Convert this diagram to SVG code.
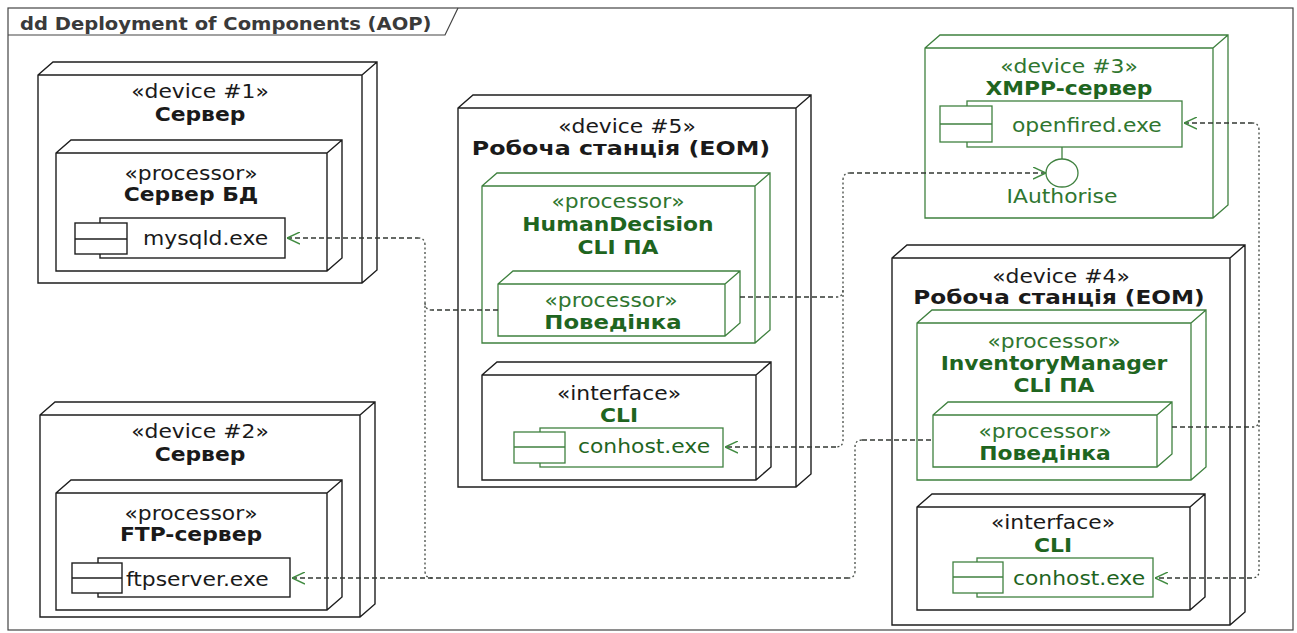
<svg xmlns="http://www.w3.org/2000/svg" width="1297" height="633" viewBox="0 0 1297 633">
  <style>
    .blk { fill: #ffffff; stroke: #1e1e1e; stroke-width: 1.4; }
    .grn { fill: #ffffff; stroke: #3f813f; stroke-width: 1.3; }
    .ln-k { fill: none; stroke: #1e1e1e; stroke-width: 1.4; }
    .ln-g { fill: none; stroke: #3f813f; stroke-width: 1.3; }
    .t { font-family: "DejaVu Sans", "Liberation Sans", sans-serif; font-size: 19px; text-anchor: middle; }
    .s { text-anchor: start; }
    .b { font-weight: bold; }
    .k { fill: #1a1a1a; }
    .g { fill: #2f762f; }
    .gb { fill: #1f651f; }
    .conn { fill: none; stroke: #333833; stroke-width: 1.3; stroke-dasharray: 5 3; }
    .dot { fill: none; stroke: #444a44; stroke-width: 1.3; stroke-dasharray: 2 2.5; }
  </style>
  <defs>
    <marker id="open-arrow" viewBox="0 0 13 13" refX="13" refY="6.5" markerWidth="13" markerHeight="13" markerUnits="userSpaceOnUse" orient="auto-start-reverse">
      <path d="M0,0.5 L13,6.5 L0,12.5" fill="none" stroke="#3f8a3f" stroke-width="1.4"/>
    </marker>
  </defs>

  <rect width="1297" height="633" fill="#ffffff"/>

  <!-- diagram frame -->
  <g id="frame">
    <rect x="8" y="8" width="1285" height="622" fill="none" stroke="#444444" stroke-width="1.2"/>
    <path d="M8,35 H445 L458,8" fill="none" stroke="#444444" stroke-width="1.2"/>
    <text class="t s b" style="font-size:17px; fill:#3a3a3a" transform="translate(20 30) scale(1.15 1)">dd Deployment of Components (AOP)</text>
  </g>

  <!-- device #1 -->
  <g id="device1">
    <path class="blk" d="M38,75 L53,62 L377,62 L377,270 L362,283 L38,283 Z M38,75 H362 V283 M362,75 L377,62"/>
    <text class="t k" transform="translate(200 98) scale(1.15 1)">«device #1»</text>
    <text class="t k b" transform="translate(200 121) scale(1.15 1)">Сервер</text>
  </g>
  <g id="db-server">
    <path class="blk" d="M56,153 L71,140 L342,140 L342,258 L327,271 L56,271 Z M56,153 H327 V271 M327,153 L342,140"/>
    <text class="t k" transform="translate(191 180) scale(1.15 1)">«processor»</text>
    <text class="t k b" transform="translate(191 201) scale(1.15 1)">Сервер БД</text>
  </g>
  <g id="mysqld">
    <rect class="blk" x="100" y="218" width="185" height="40"/>
    <rect class="blk" x="75" y="223" width="52" height="31"/>
    <line class="ln-k" x1="75" y1="239" x2="127" y2="239"/>
    <text class="t s k" transform="translate(143 245) scale(1.15 1)">mysqld.exe</text>
  </g>

  <!-- device #2 -->
  <g id="device2">
    <path class="blk" d="M40,415 L55,402 L375,402 L375,604 L360,617 L40,617 Z M40,415 H360 V617 M360,415 L375,402"/>
    <text class="t k" transform="translate(200 438) scale(1.15 1)">«device #2»</text>
    <text class="t k b" transform="translate(200 461) scale(1.15 1)">Сервер</text>
  </g>
  <g id="ftp-server">
    <path class="blk" d="M56,493 L71,480 L342,480 L342,597 L327,610 L56,610 Z M56,493 H327 V610 M327,493 L342,480"/>
    <text class="t k" transform="translate(191 520) scale(1.15 1)">«processor»</text>
    <text class="t k b" transform="translate(191 541) scale(1.15 1)">FTP-сервер</text>
  </g>
  <g id="ftpserver">
    <rect class="blk" x="98" y="558" width="192" height="39"/>
    <rect class="blk" x="72" y="563" width="50" height="30"/>
    <line class="ln-k" x1="72" y1="578" x2="122" y2="578"/>
    <text class="t s k" transform="translate(126 586) scale(1.15 1)">ftpserver.exe</text>
  </g>

  <!-- device #5 -->
  <g id="device5">
    <path class="blk" d="M458,108 L473,95 L811,95 L811,474 L796,487 L458,487 Z M458,108 H796 V487 M796,108 L811,95"/>
    <text class="t k" transform="translate(627 133) scale(1.15 1)">«device #5»</text>
    <text class="t k b" transform="translate(621 155) scale(1.25 1)">Робоча станція (ЕОМ)</text>
  </g>
  <g id="human-decision">
    <path class="grn" d="M482,186 L497,173 L770,173 L770,330 L755,343 L482,343 Z M482,186 H755 V343 M755,186 L770,173"/>
    <text class="t g" transform="translate(618 208) scale(1.15 1)">«processor»</text>
    <text class="t gb b" transform="translate(618 231) scale(1.15 1)">HumanDecision</text>
    <text class="t gb b" transform="translate(618 254) scale(1.15 1)">CLI ПА</text>
  </g>
  <g id="behaviour5">
    <path class="grn" d="M498,284 L513,271 L740,271 L740,323 L725,336 L498,336 Z M498,284 H725 V336 M725,284 L740,271"/>
    <text class="t g" transform="translate(611 307) scale(1.15 1)">«processor»</text>
    <text class="t gb b" transform="translate(613 329) scale(1.2 1)">Поведінка</text>
  </g>
  <g id="cli5">
    <path class="blk" d="M482,375 L497,362 L771,362 L771,467 L756,480 L482,480 Z M482,375 H756 V480 M756,375 L771,362"/>
    <text class="t k" transform="translate(619 400) scale(1.15 1)">«interface»</text>
    <text class="t gb b" transform="translate(619 422) scale(1.15 1)">CLI</text>
  </g>
  <g id="conhost5">
    <rect class="grn" x="540" y="428" width="183" height="39"/>
    <rect class="grn" x="514" y="432" width="51" height="31"/>
    <line class="ln-g" x1="514" y1="447" x2="565" y2="447"/>
    <text class="t s gb" transform="translate(578 453) scale(1.15 1)">conhost.exe</text>
  </g>

  <!-- device #3 -->
  <g id="device3">
    <path class="grn" d="M925,48 L940,35 L1228,35 L1228,205 L1213,218 L925,218 Z M925,48 H1213 V218 M1213,48 L1228,35"/>
    <text class="t g" transform="translate(1069 73) scale(1.15 1)">«device #3»</text>
    <text class="t gb b" transform="translate(1069 95) scale(1.15 1)">XMPP-сервер</text>
  </g>
  <g id="openfired">
    <rect class="grn" x="967" y="101" width="215" height="46"/>
    <rect class="grn" x="940" y="106" width="52" height="36"/>
    <line class="ln-g" x1="940" y1="124" x2="992" y2="124"/>
    <text class="t s g" transform="translate(1012 132) scale(1.15 1)">openfired.exe</text>
  </g>
  <g id="iauthorise">
    <line class="ln-g" x1="1062" y1="147" x2="1062" y2="159"/>
    <ellipse class="grn" cx="1062" cy="173" rx="16" ry="14"/>
    <text class="t g" transform="translate(1062 203) scale(1.15 1)">IAuthorise</text>
  </g>

  <!-- device #4 -->
  <g id="device4">
    <path class="blk" d="M892,258 L907,245 L1245,245 L1245,612 L1230,625 L892,625 Z M892,258 H1230 V625 M1230,258 L1245,245"/>
    <text class="t k" transform="translate(1061 283) scale(1.15 1)">«device #4»</text>
    <text class="t k b" transform="translate(1059 304) scale(1.22 1)">Робоча станція (ЕОМ)</text>
  </g>
  <g id="inventory-manager">
    <path class="grn" d="M917,323 L932,310 L1206,310 L1206,467 L1191,480 L917,480 Z M917,323 H1191 V480 M1191,323 L1206,310"/>
    <text class="t g" transform="translate(1054 348) scale(1.15 1)">«processor»</text>
    <text class="t gb b" transform="translate(1054 370) scale(1.15 1)">InventoryManager</text>
    <text class="t gb b" transform="translate(1054 392) scale(1.15 1)">CLI ПА</text>
  </g>
  <g id="behaviour4">
    <path class="grn" d="M933,415 L948,402 L1172,402 L1172,454 L1157,467 L933,467 Z M933,415 H1157 V467 M1157,415 L1172,402"/>
    <text class="t g" transform="translate(1045 438) scale(1.15 1)">«processor»</text>
    <text class="t gb b" transform="translate(1045 460) scale(1.15 1)">Поведінка</text>
  </g>
  <g id="cli4">
    <path class="blk" d="M917,507 L932,494 L1205,494 L1205,597 L1190,610 L917,610 Z M917,507 H1190 V610 M1190,507 L1205,494"/>
    <text class="t k" transform="translate(1053 529) scale(1.15 1)">«interface»</text>
    <text class="t gb b" transform="translate(1053 552) scale(1.15 1)">CLI</text>
  </g>
  <g id="conhost4">
    <rect class="grn" x="977" y="558" width="176" height="39"/>
    <rect class="grn" x="953" y="562" width="50" height="31"/>
    <line class="ln-g" x1="953" y1="577" x2="1003" y2="577"/>
    <text class="t s gb" transform="translate(1013 585) scale(1.15 1)">conhost.exe</text>
  </g>

  <!-- dependency connectors: horizontal runs dashed, vertical runs dotted -->
  <g id="connectors">
    <!-- servers: mysqld.exe / ftpserver.exe -->
    <path class="conn" marker-start="url(#open-arrow)" d="M287,238 H418"/>
    <path class="dot" d="M418,238 Q425,238 425,245 V571 Q425,578 432,578"/>
    <path class="conn" marker-start="url(#open-arrow)" d="M292,578 H848"/>
    <path class="dot" d="M848,578 Q855,578 855,571 V447 Q855,440 862,440"/>
    <path class="conn" d="M862,440 H933"/>
    <path class="conn" d="M498,310 H432"/>
    <path class="dot" d="M432,310 Q425,310 425,303"/>
    <!-- device #5 behaviour: IAuthorise / conhost.exe -->
    <path class="conn" marker-start="url(#open-arrow)" d="M1046,173 H850"/>
    <path class="dot" d="M850,173 Q843,173 843,180 V440 Q843,447 836,447"/>
    <path class="conn" marker-end="url(#open-arrow)" d="M836,447 H725"/>
    <path class="conn" d="M740,297 H836"/>
    <path class="dot" d="M836,297 Q843,297 843,290"/>
    <!-- device #4 behaviour: openfired.exe / conhost.exe -->
    <path class="conn" marker-start="url(#open-arrow)" d="M1184,123 H1252"/>
    <path class="dot" d="M1252,123 Q1259,123 1259,130 V571 Q1259,578 1252,578"/>
    <path class="conn" marker-end="url(#open-arrow)" d="M1252,578 H1155"/>
    <path class="conn" d="M1172,427 H1252"/>
    <path class="dot" d="M1252,427 Q1259,427 1259,420"/>
  </g>
</svg>
